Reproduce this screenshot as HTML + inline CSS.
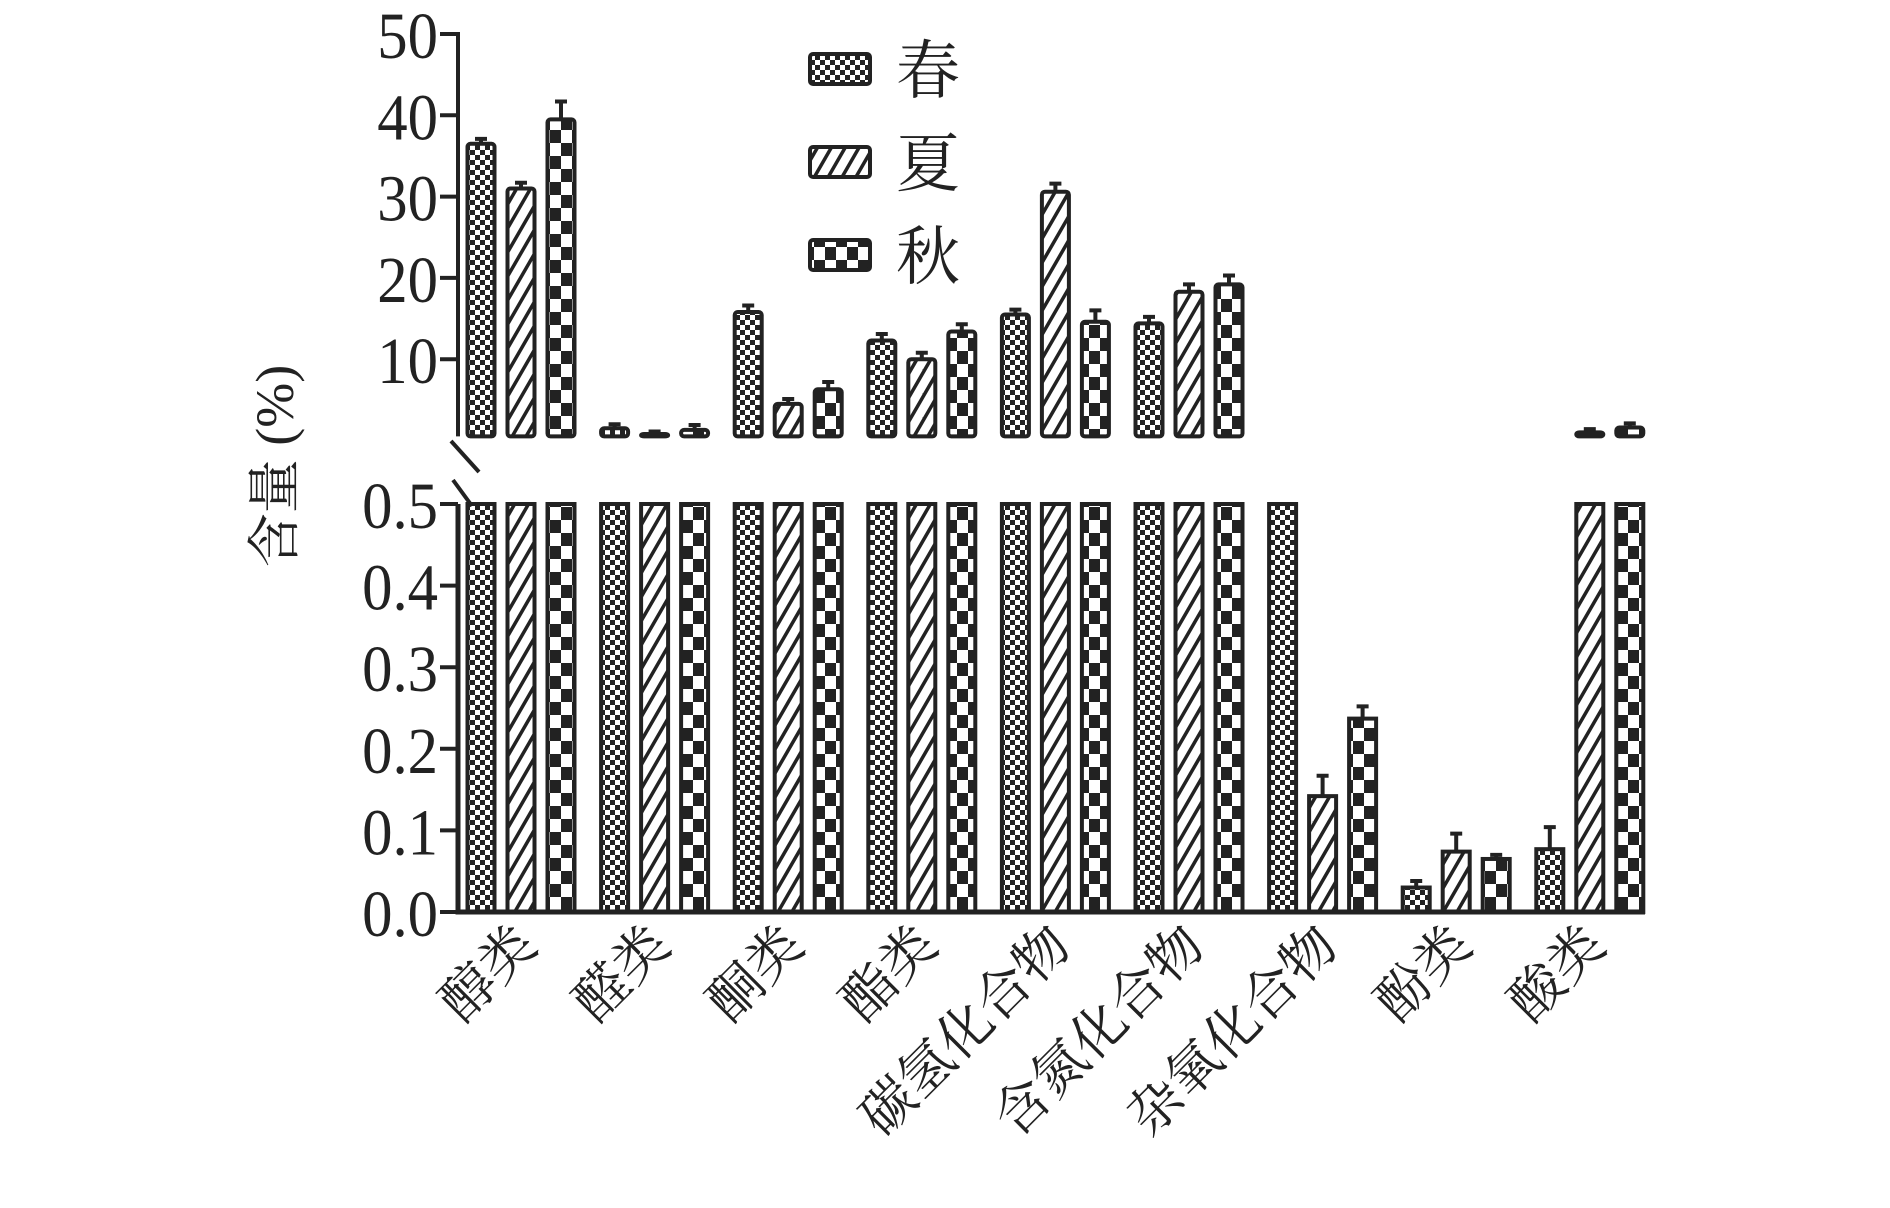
<!DOCTYPE html>
<html><head><meta charset="utf-8"><style>
html,body{margin:0;padding:0;background:#fff;}
svg{display:block;}
text{fill:#222;}
</style></head><body>
<svg id="chart" width="1890" height="1208" viewBox="0 0 1890 1208" xmlns="http://www.w3.org/2000/svg">
<defs>
<pattern id="p-spring" width="10" height="10" patternUnits="userSpaceOnUse">
<rect width="10" height="10" fill="#fff"/><rect width="5" height="5" fill="#222"/><rect x="5" y="5" width="5" height="5" fill="#222"/>
</pattern>
<pattern id="p-summer" width="12" height="12" patternUnits="userSpaceOnUse" patternTransform="rotate(30)">
<rect width="12" height="12" fill="#fff"/><rect width="3.5" height="12" fill="#222"/>
</pattern>
<pattern id="p-autumn" width="22" height="26" patternUnits="userSpaceOnUse">
<rect width="22" height="26" fill="#fff"/><rect width="11" height="13" fill="#222"/><rect x="11" y="13" width="11" height="13" fill="#222"/>
</pattern>
</defs>
<g id="plot"></g>
</svg>
<script>
const categories = ["醇类","醛类","酮类","酯类","碳氢化合物","含氮化合物","杂氧化合物","酚类","酸类"];
const seriesNames = ["春","夏","秋"];
const springValues = [36.5, 1.5, 15.8, 12.3, 15.5, 14.4, 0.5, 0.03, 0.077];
const summerValues = [31.0, 0.8, 4.5, 10.0, 30.6, 18.3, 0.142, 0.074, 1.0];
const autumnValues = [39.5, 1.3, 6.3, 13.4, 14.6, 19.2, 0.237, 0.065, 1.6];
const springErrors = [0.6, 0.5, 0.8, 0.8, 0.6, 0.8, 0, 0.008, 0.027];
const summerErrors = [0.7, 0.3, 0.6, 0.8, 1.0, 0.9, 0.025, 0.022, 0.4];
const autumnErrors = [2.2, 0.6, 0.9, 0.9, 1.4, 1.1, 0.015, 0.005, 0.5];
const upperTicks = [10, 20, 30, 40, 50];
const lowerTicks = [0.0, 0.1, 0.2, 0.3, 0.4, 0.5];

const NS = "http://www.w3.org/2000/svg";
const g = document.getElementById("plot");
const AX = 458, XEND = 1645;
const BREAK = 0.5;
function yUpper(v){ return 34 + (50 - v) * 8.13; }
function yLower(v){ return 912 - v * 816; }
function xGroup(i){ return 521 + i * 133.6; }
const offsets = [-40, 0, 40];
const BW = 27;
function el(tag, attrs){ const e = document.createElementNS(NS, tag); for (const k in attrs) e.setAttribute(k, attrs[k]); g.appendChild(e); return e; }

const allVals = [springValues, summerValues, autumnValues];
const allErrs = [springErrors, summerErrors, autumnErrors];
const pats = ["url(#p-spring)","url(#p-summer)","url(#p-autumn)"];

for (let s = 0; s < 3; s++) {
  for (let i = 0; i < categories.length; i++) {
    const v = allVals[s][i], e = allErrs[s][i];
    const x = xGroup(i) + offsets[s] - BW / 2;
    const lv = Math.min(v, BREAK);
    const yl = yLower(lv);
    const r = el("rect", {x: x, y: yl, width: BW, height: yLower(0) - yl, fill: pats[s], stroke: "#222", "stroke-width": 4});
    
    
    if (v < BREAK && e > 0) {
      const ye = yLower(v + e);
      const l = el("path", {d: `M${x+BW/2},${yl} V${ye} M${x+BW/2-6},${ye} H${x+BW/2+6}`, stroke: "#222", "stroke-width": 4, fill: "none"});
      
      
    }
    if (v > BREAK) {
      const yu = yUpper(v), yb = yUpper(BREAK);
      if (yb - yu > 1) {
        const u = el("rect", {x: x, y: yu, width: BW, height: yb - yu, fill: pats[s], stroke: "#222", "stroke-width": 4, rx: 3});
        
        
      }
      const ye = yUpper(v + e);
      const l = el("path", {d: `M${x+BW/2},${yu} V${ye} M${x+BW/2-6},${ye} H${x+BW/2+6}`, stroke: "#222", "stroke-width": 4, fill: "none"});
      
      
    }
  }
}

const ua = el("path", {d: `M${AX-14},${yUpper(50)} H${AX} V${yUpper(BREAK)}`, stroke: "#222", "stroke-width": 4, fill: "none"});


const la = el("path", {d: `M${AX},${yLower(BREAK)} V${yLower(0)} H${XEND}`, stroke: "#222", "stroke-width": 5, fill: "none"});


const br1 = el("path", {d: `M451,441 L479,472`, stroke: "#222", "stroke-width": 4, fill: "none"});


const br2 = el("path", {d: `M453,480 L472,506`, stroke: "#222", "stroke-width": 4, fill: "none"});


upperTicks.forEach(t => {
  const y = yUpper(t);
  el("line", {x1: AX-18, x2: AX, y1: y, y2: y, stroke: "#222", "stroke-width": 4});
  const tx = el("text", {x: 438, y: y + 24, "text-anchor": "end", "font-family": "Liberation Serif, serif", "font-size": 66, transform: `translate(438 0) scale(0.92 1) translate(-438 0)`});
  tx.textContent = t;
  
  
});
lowerTicks.forEach(t => {
  const y = yLower(t);
  el("line", {x1: AX-18, x2: AX, y1: y, y2: y, stroke: "#222", "stroke-width": 4});
  const tx = el("text", {x: 438, y: y + 24, "text-anchor": "end", "font-family": "Liberation Serif, serif", "font-size": 66, transform: `translate(438 0) scale(0.92 1) translate(-438 0)`});
  tx.textContent = t.toFixed(1);
  
  
});
categories.forEach((c, i) => {
  const x = xGroup(i) + 18, y = 948;
  const tx = el("text", {x: x, y: y, "text-anchor": "end", transform: `rotate(-45 ${x} ${y})`, "font-family": "Liberation Serif, 'Noto Serif CJK SC', serif", "font-size": 54});
  tx.textContent = c;
  
  
});
const yt = el("text", {x: 293, y: 466, "text-anchor": "middle", transform: "rotate(-90 293 466)", "font-family": "Liberation Serif, 'Noto Serif CJK SC', serif", "font-size": 54});
yt.textContent = "含量 (%)";


seriesNames.forEach((n, s) => {
  const y = 69 + s * 93;
  const r = el("rect", {x: 810, y: y - 15, width: 60, height: 30, fill: pats[s], stroke: "#222", "stroke-width": 4, rx: 3});
  
  
  const tx = el("text", {x: 896, y: y + 24, "font-family": "'Noto Serif CJK SC', serif", "font-size": 64});
  tx.textContent = n;
  
  
});
</script>
</body></html>
